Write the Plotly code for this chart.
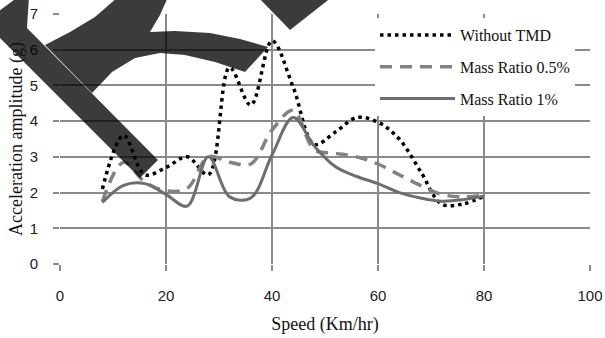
import plotly.graph_objects as go

# ---- data ----
speed = [8, 12, 16, 20, 24, 28, 32, 36, 40, 44, 48, 52, 56, 60, 64, 68, 72, 76, 80]
without_tmd = [2.1, 3.6, 2.5, 2.7, 3.0, 2.5, 5.5, 4.45, 6.25, 4.95, 3.35, 3.7, 4.1, 3.97, 3.5, 2.6, 1.68, 1.68, 1.9]
mass_05 = [1.75, 2.85, 2.3, 2.05, 2.12, 3.0, 2.85, 2.8, 3.75, 4.3, 3.2, 3.1, 3.0, 2.8, 2.5, 2.2, 1.95, 1.88, 1.93]
mass_1 = [1.72, 2.2, 2.25, 1.95, 1.62, 3.0, 1.88, 1.85, 3.05, 4.1, 3.3, 2.72, 2.45, 2.25, 2.0, 1.85, 1.76, 1.8, 1.9]

series_names = ["Without TMD", "Mass Ratio 0.5%", "Mass Ratio 1%"]
x_ticks = [0, 20, 40, 60, 80, 100]
y_ticks = [0, 1, 2, 3, 4, 5, 6, 7]

W, H = 605, 338
ML, MR, MT, MB = 60, 15, 14, 74
PW, PH = W - ML - MR, H - MT - MB

GRID = "#8a8a8a"
SERIF = "Liberation Serif, Times New Roman, serif"
SANS = "Liberation Sans, Arial, sans-serif"

fig = go.Figure()
fig.add_trace(go.Scatter(x=speed, y=without_tmd, name=series_names[0], mode="lines", legendgroup="a",
                         line=dict(color="#000000", width=3.5, dash="3.5px,4px", shape="spline")))
fig.add_trace(go.Scatter(x=speed, y=mass_05, name=series_names[1], mode="lines", legendgroup="b",
                         line=dict(color="#828282", width=3.5, dash="12px,8px", shape="spline")))
fig.add_trace(go.Scatter(x=speed, y=mass_1, name=series_names[2], mode="lines", legendgroup="c",
                         line=dict(color="#6e6e6e", width=3, shape="spline")))


def P(px, py):
    return (px - ML) / PW, (H - MB - py) / PH


def path(points):
    s = ""
    for i, (px, py) in enumerate(points):
        x, y = P(px, py)
        s += ("M" if i == 0 else "L") + f"{x:.4f},{y:.4f} "
    return s + "Z "

# watermark overlay (decoration in the reference image)
piece1 = [(18, -3), (-16, 22), (140, 178), (158, 160), (27, 28), (29, -3)]
piece2 = [(118, -3), (168, -3), (160, 15), (150, 32), (175, 31), (210, 33), (240, 39), (268, 47),
          (245, 72), (215, 62), (185, 55), (160, 53), (135, 58), (112, 72), (92, 93), (45, 45),
          (70, 32), (95, 17)]
piece3 = [(258, -3), (332, -3), (290, 30)]
fig.add_shape(type="path", xref="paper", yref="paper", layer="above",
              path=path(piece1) + path(piece2) + path(piece3),
              fillcolor="rgba(0,0,0,0.77)", line=dict(width=0))

fig.update_layout(
    width=W, height=H,
    margin=dict(l=ML, r=MR, t=MT, b=MB, autoexpand=False),
    paper_bgcolor="white", plot_bgcolor="white",
    showlegend=True,
    legend=dict(x=P(375, 0)[0], y=P(0, 18)[1], xanchor="left", yanchor="top",
                bgcolor="white", borderwidth=0, font=dict(family=SERIF, size=16, color="#111"),
                itemwidth=75, tracegroupgap=8),
    xaxis=dict(range=[0, 100], tickvals=x_ticks, showgrid=True, gridcolor=GRID, gridwidth=2,
               zeroline=False, showline=False, ticks="outside", ticklen=6, tickwidth=2,
               tickcolor=GRID, tickfont=dict(family=SANS, size=15, color="#222"),
               ticklabelstandoff=12,
               title=dict(text="Speed (Km/hr)", font=dict(family=SERIF, size=18, color="#111"),
                          standoff=14)),
    yaxis=dict(range=[0, 7], tickvals=y_ticks, showgrid=True, gridcolor=GRID, gridwidth=2,
               zeroline=False, showline=False, ticks="outside", ticklen=6, tickwidth=2,
               tickcolor=GRID, tickfont=dict(family=SANS, size=15, color="#222"),
               ticklabelstandoff=12,
               title=dict(text="Acceleration amplitude (g)", font=dict(family=SERIF, size=18, color="#111"),
                          standoff=2)),
)

fig.write_html("out.html", config={"displayModeBar": False},
               post_script="document.body.style.margin='0px';")
